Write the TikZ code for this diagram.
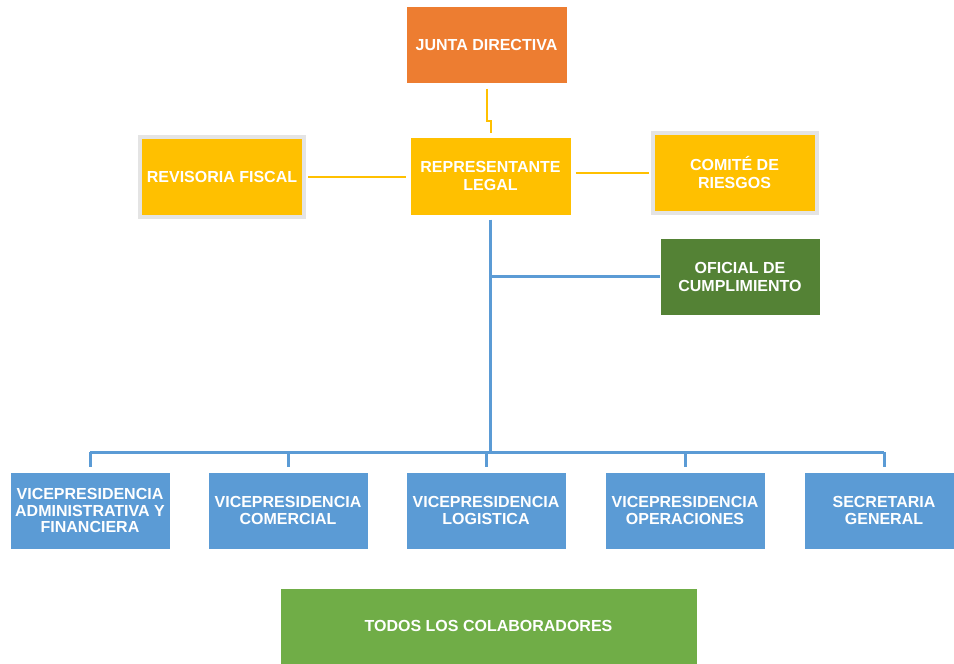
\documentclass[tikz,border=0pt]{standalone}
\usepackage{fontspec}
\setmainfont{Liberation Sans}
\usetikzlibrary{positioning,calc}
\definecolor{orgorange}{HTML}{ED7D31}
\definecolor{orgyellow}{HTML}{FFC000}
\definecolor{orgblue}{HTML}{5B9BD5}
\definecolor{orgdkgreen}{HTML}{548235}
\definecolor{orggreen}{HTML}{70AD47}
\definecolor{orggray}{HTML}{E4E4E4}
\tikzset{
  unit/.style={draw=white,line width=1pt,text=white,align=center,
    font=\bfseries\fontsize{16}{18}\selectfont,
    minimum width=161pt,minimum height=77pt,inner sep=1pt},
  yline/.style={draw=orgyellow,line width=2pt},
  bline/.style={draw=orgblue,line width=3pt}
}

\begin{document}
\begin{tikzpicture}[x=1pt,y=-1pt,
  framed/.style={unit,draw=orggray,line width=4pt,fill=orgyellow,
    minimum width=164pt,minimum height=80pt},
  vp/.style={unit,fill=orgblue,minimum width=160pt,
    font=\bfseries\fontsize{16}{16.5}\selectfont}
]
  \useasboundingbox (0,0) rectangle (954,664);
  \node[unit,fill=orgorange] (junta) at (486.5,44.5) {JUNTA DIRECTIVA};
  \node[unit,fill=orgyellow,minimum height=78pt] (rep) at (490.5,176)
    {REPRESENTANTE\\LEGAL};
  \node[framed] (revisoria) at (222,177) {REVISORIA FISCAL};
  \node[framed] (comite) at (734.5,172.5) {COMITÉ DE\\RIESGOS};
  \node[unit,fill=orgdkgreen,minimum width=160pt] (oficial) at (740,276.5)
    {OFICIAL DE\\CUMPLIMIENTO};
  \node[vp] (vadmin) at (90,510.5) {VICEPRESIDENCIA\\ADMINISTRATIVA Y\\FINANCIERA};
  \node[vp] (vcomercial) at (288,510.5) {VICEPRESIDENCIA\\COMERCIAL};
  \node[vp] (vlogistica) at (486,510.5) {VICEPRESIDENCIA\\LOGISTICA};
  \node[vp] (voperaciones) at (685,510.5) {VICEPRESIDENCIA\\OPERACIONES};
  \node[vp] (secretaria) at (884,510.5) {SECRETARIA\\GENERAL};
  \node[unit,fill=orggreen,minimum width=417pt,minimum height=76pt] (todos)
    at (488.5,626) {TODOS LOS COLABORADORES};
  % yellow links
  \draw[yline,shorten <=5pt,shorten >=4pt] (junta.south) -- ++(0,37) -| (rep.north);
  \draw[yline,shorten <=2pt,shorten >=4pt] (revisoria.east) -- (revisoria.east -| rep.west);
  \draw[yline,shorten <=4pt,shorten >=2pt] (rep.east |- comite.west) -- (comite.west);
  % blue tree
  \coordinate (bus) at (490.5,452);
  \draw[bline,shorten <=4pt] (rep.south) -- (bus);
  \draw[bline] (rep.south |- oficial.west) -- (oficial.west);
  \draw[bline] (bus -| vadmin.north) -- (bus -| secretaria.north);
  \foreach \vpname in {vadmin,vcomercial,vlogistica,voperaciones,secretaria}
    \draw[bline,shorten >=5pt] (bus -| \vpname.north) -- (\vpname.north);
\end{tikzpicture}
\end{document}
